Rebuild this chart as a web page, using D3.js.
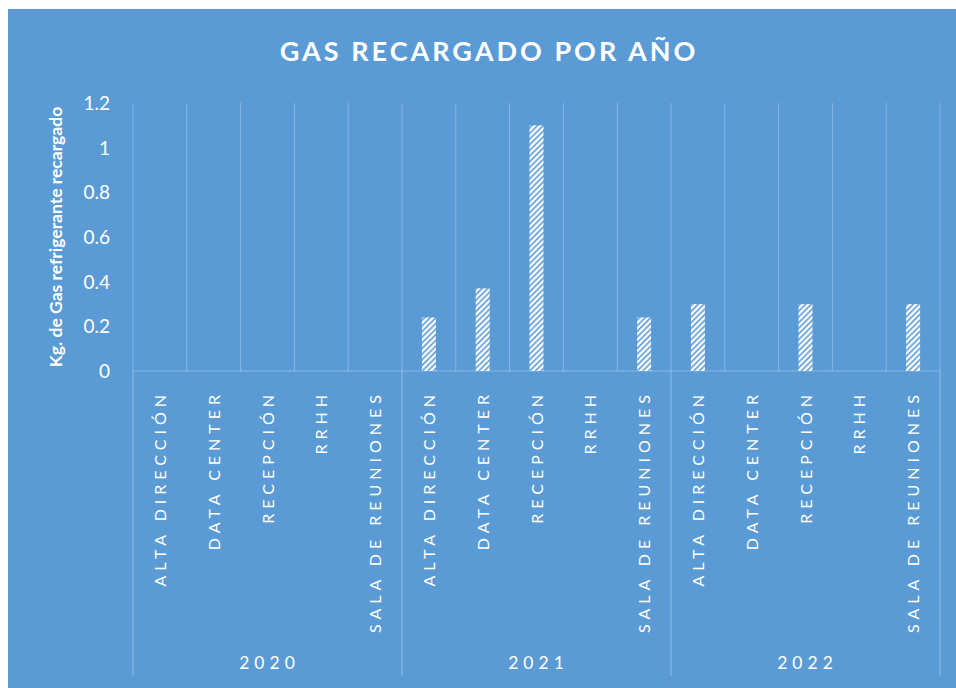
<!DOCTYPE html>
<html><head><meta charset="utf-8">
<script src="https://cdn.jsdelivr.net/npm/d3@7"></script>
<style>body{margin:0;background:#fff;}svg{display:block;}</style>
</head><body>
<svg id="c" width="956" height="688"></svg>
<script>
const years = ["2020", "2021", "2022"];
const areas = ["ALTA DIRECCIÓN", "DATA CENTER", "RECEPCIÓN", "RRHH", "SALA DE REUNIONES"];
const values2020 = [0, 0, 0, 0, 0];
const values2021 = [0.24, 0.37, 1.1, 0, 0.24];
const values2022 = [0.3, 0, 0.3, 0, 0.3];
const yTicks = [0, 0.2, 0.4, 0.6, 0.8, 1, 1.2];
const title = "GAS RECARGADO POR AÑO";
const yTitle = "Kg. de Gas refrigerante recargado";

(function(){
const seriesByYear = [values2020, values2021, values2022];
const rows = [];
years.forEach((yr, i) => areas.forEach((a, j) => rows.push({year: yr, area: a, key: yr + "|" + a, v: seriesByYear[i][j]})));

const svg = d3.select("#c");
const font = "Lato, 'Open Sans', sans-serif";
const bg = "#5B9BD5";
const grid = "rgba(255,255,255,0.28)";

svg.append("rect").attr("x", 8).attr("y", 9).attr("width", 948).attr("height", 679).attr("fill", bg);

const defs = svg.append("defs");
const pat = defs.append("pattern").attr("id", "hatch").attr("patternUnits", "userSpaceOnUse")
  .attr("width", 4).attr("height", 4).attr("patternTransform", "rotate(45)");
pat.append("rect").attr("width", 4).attr("height", 4).attr("fill", "#fff");
pat.append("rect").attr("x", 0).attr("y", 0).attr("width", 1.6).attr("height", 4).attr("fill", bg);

const pLeft = 133, pRight = 940, pTop = 103, pBase = 371;
const x = d3.scaleBand().domain(rows.map(d => d.key)).range([pLeft, pRight]).padding(0);
const xYear = d3.scaleBand().domain(years).range([pLeft, pRight]).padding(0);
const y = d3.scaleLinear().domain([0, 1.2]).range([pBase, pTop]);

svg.append("text").attr("x", 489).attr("y", 61).attr("text-anchor", "middle")
  .attr("fill", "#fff").attr("font-family", font).attr("font-weight", "bold")
  .attr("font-size", 27).attr("letter-spacing", 3).text(title);

const bounds = rows.map(d => x(d.key)).concat([pRight]);
svg.append("g").selectAll("line").data(bounds).join("line")
  .attr("x1", d => d).attr("x2", d => d).attr("y1", pTop).attr("y2", pBase)
  .attr("stroke", grid).attr("stroke-width", 1);

const yAxis = d3.axisLeft(y).tickValues(yTicks).tickSize(0).tickPadding(0).tickFormat(d3.format("~g"));
const ya = svg.append("g").attr("transform", `translate(110,0)`).call(yAxis);
ya.select(".domain").remove();
ya.selectAll("text").attr("fill", "#fff").attr("font-family", font).attr("font-size", 19).attr("dy", "0.35em");

svg.append("text").attr("transform", `translate(62,237) rotate(-90)`).attr("text-anchor", "middle")
  .attr("fill", "#fff").attr("font-family", font).attr("font-weight", "bold").attr("font-size", 17.5)
  .text(yTitle);

const bw = x.bandwidth() * 0.26;
svg.append("g").selectAll("rect").data(rows.filter(d => d.v > 0)).join("rect")
  .attr("x", d => x(d.key) + x.bandwidth() / 2 - bw / 2)
  .attr("width", bw)
  .attr("y", d => y(d.v))
  .attr("height", d => pBase - y(d.v))
  .attr("fill", "url(#hatch)");

svg.append("line").attr("x1", pLeft).attr("x2", pRight).attr("y1", pBase).attr("y2", pBase)
  .attr("stroke", grid).attr("stroke-width", 1.2);

const yb = years.map(d => xYear(d)).concat([pRight]);
svg.append("g").selectAll("line").data(yb).join("line")
  .attr("x1", d => d).attr("x2", d => d).attr("y1", pBase).attr("y2", 676)
  .attr("stroke", grid).attr("stroke-width", 1.2);

svg.append("g").selectAll("text").data(rows).join("text")
  .attr("transform", d => `translate(${x(d.key) + x.bandwidth() / 2 + 6},390) rotate(-90)`)
  .attr("text-anchor", "end").attr("fill", "#fff").attr("font-family", font)
  .attr("font-size", 16).attr("letter-spacing", 5).text(d => d.area);

svg.append("g").selectAll("text").data(years).join("text")
  .attr("x", d => xYear(d) + xYear.bandwidth() / 2 + 2).attr("y", 669)
  .attr("text-anchor", "middle").attr("fill", "#fff").attr("font-family", font)
  .attr("font-size", 17.5).attr("letter-spacing", 5).text(d => d);
})();
</script>
</body></html>
